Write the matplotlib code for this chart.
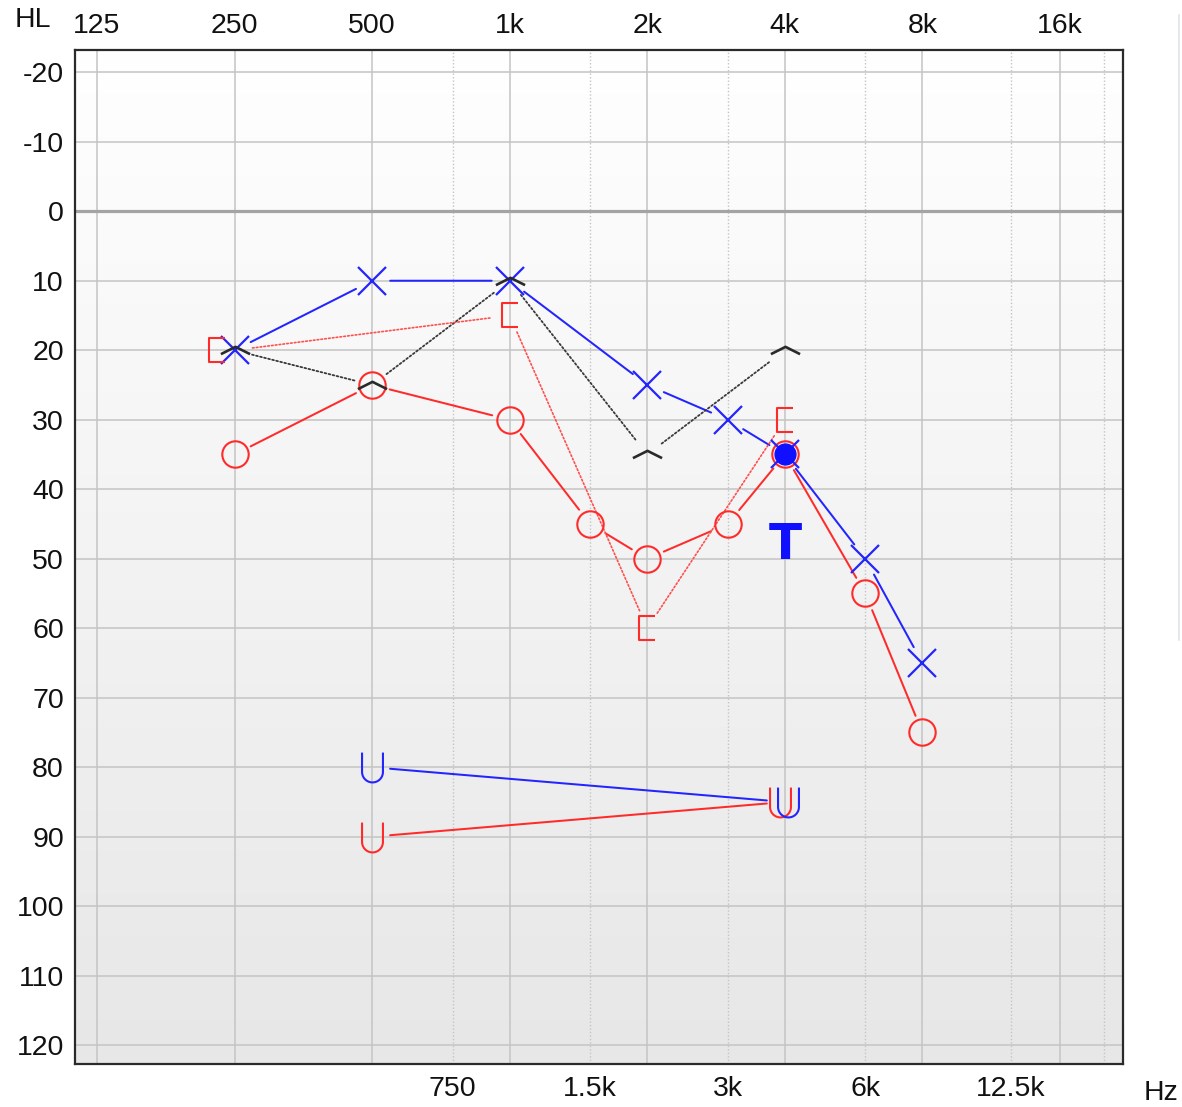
import numpy as np
import matplotlib
matplotlib.use('Agg')
import matplotlib.pyplot as plt
from matplotlib.path import Path
from matplotlib.colors import LinearSegmentedColormap
from matplotlib import transforms
from matplotlib.lines import Line2D

plt.rcParams['font.family'] = ['Liberation Sans', 'DejaVu Sans']

# --- audiogram values (Hz, dB HL) ---
left_air_f = [250, 500, 1000, 2000, 3000, 4000, 6000, 8000]
left_air_db = [20, 10, 10, 25, 30, 35, 50, 65]            # blue X
right_air_f = [250, 500, 1000, 1500, 2000, 3000, 4000, 6000, 8000]
right_air_db = [35, 25, 30, 45, 50, 45, 35, 55, 75]        # red O
free_f = [250, 500, 1000, 2000, 4000]
free_db = [20, 25, 10, 35, 20]                             # black ^
right_bone_f = [250, 1000, 2000, 4000]
right_bone_db = [20, 15, 60, 30]                           # red [
ucl_f = [500, 4000]
left_ucl_db = [80, 85]                                     # blue U
right_ucl_db = [90, 85]                                    # red U
left_masked_f = [4000]
left_masked_db = [35]                                      # blue filled dot
tone_label_f = 4000
tone_label_db = 48

top_ticks = [125, 250, 500, 1000, 2000, 4000, 8000, 16000]
top_labels = ['125', '250', '500', '1k', '2k', '4k', '8k', '16k']
bottom_ticks = [750, 1500, 3000, 6000, 12500, 20000]
bottom_labels = ['750', '1.5k', '3k', '6k', '12.5k', '']
db_ticks = list(range(-20, 121, 10))

BLUE = '#2424ff'
RED = '#ff2b2b'
DARK = '#2a2a2a'

# marker shapes
chevron = Path([(-1, -0.25), (0, 0.25), (1, -0.25)],
               [Path.MOVETO, Path.LINETO, Path.LINETO])
bracket = Path([(0.33, 0.5), (-0.33, 0.5), (-0.33, -0.5), (0.33, -0.5)],
               [Path.MOVETO, Path.LINETO, Path.LINETO, Path.LINETO])
t = np.linspace(np.pi, 2 * np.pi, 24)
u_verts = [(-0.35, 0.5), (-0.35, -0.15)] + \
          [(0.35 * np.cos(a), -0.15 + 0.35 * np.sin(a)) for a in t] + [(0.35, 0.5)]
u_shape = Path(u_verts)

fig = plt.figure(figsize=(11.82, 11.07), dpi=100)
pos = [75 / 1182, 43 / 1107, 1048 / 1182, 1014 / 1107]

# shaded background behind the grid
bg = fig.add_axes(pos, zorder=0)
shade = LinearSegmentedColormap.from_list('shade', ['#ffffff', '#e7e7e7'])
bg.imshow(np.linspace(0, 1, 256).reshape(-1, 1), aspect='auto', cmap=shade,
          extent=(0, 1, 0, 1))
bg.axis('off')

ax = fig.add_axes(pos, zorder=1)
ax.set_facecolor('none')
ax.set_xscale('log', base=2)
ax.set_xlim(111.9, 21980)
ax.set_ylim(122.7, -23.2)

ax.set_xticks(top_ticks)
ax.set_xticklabels(top_labels)
ax.set_xticks(bottom_ticks, minor=True)
ax.set_xticklabels(bottom_labels, minor=True)
ax.set_yticks(db_ticks)
ax.set_yticklabels([str(v) for v in db_ticks])
ax.tick_params(which='both', length=0, labelsize=20.5, colors='#111111')
ax.tick_params(axis='x', which='major', labeltop=True, labelbottom=False, pad=8)
ax.tick_params(axis='x', which='minor', labeltop=False, labelbottom=True, pad=9)
ax.tick_params(axis='y', pad=8)

ax.grid(which='major', axis='both', color='#c4c4c4', lw=1.1)
ax.grid(which='minor', axis='x', color='#c4c4c4', lw=1.0, ls=(0, (1, 1.5)))
ax.axhline(0, color='#a4a4a4', lw=2.3, zorder=1.5)
ax.set_axisbelow(True)
for s in ax.spines.values():
    s.set_color('#2a2a2a')
    s.set_linewidth(1.6)


def link(fx, db, color, ls='-', lw=1.45, gap=13):
    for i in range(len(fx) - 1):
        ax.annotate('', xy=(fx[i + 1], db[i + 1]), xytext=(fx[i], db[i]),
                    arrowprops=dict(arrowstyle='-', color=color, lw=lw, ls=ls,
                                    shrinkA=gap, shrinkB=gap), zorder=2)


link(right_air_f, right_air_db, RED)
link(left_air_f, left_air_db, BLUE)
link(free_f, free_db, '#3a3a3a', ls=(0, (1, 1.3)), lw=1.3)
link(right_bone_f, right_bone_db, '#ff5050', ls=(0, (1, 1.3)), lw=1.2)
link(ucl_f, left_ucl_db, BLUE)
link(ucl_f, right_ucl_db, RED)

ax.plot(right_air_f, right_air_db, ls='none', marker='o', ms=19, mfc='none',
        mec=RED, mew=1.5, zorder=3)
ax.plot(left_air_f, left_air_db, ls='none', marker='x', ms=19.5, mec=BLUE,
        mew=1.6, zorder=3)
ax.plot(free_f, free_db, ls='none', marker=chevron, ms=21, mfc='none',
        mec=DARK, mew=1.9, zorder=4)
ax.plot(left_masked_f, left_masked_db, ls='none', marker='o', ms=15, mfc='#1010ff',
        mec='#1010ff', zorder=5)

# bone markers; the 250 Hz one sits beside the grid line
bone_nudge = [-18, 0, 0, 0]
for f, d, dx in zip(right_bone_f, right_bone_db, bone_nudge):
    tr = transforms.offset_copy(ax.transData, fig=fig, x=dx, y=0, units='dots')
    ax.plot([f], [d], ls='none', marker=bracket, ms=17, mfc='none', mec=RED,
            mew=1.5, transform=tr, zorder=4)

ucl_nudge = {'red': [0, -5], 'blue': [0, 3]}
for vals, col, key in [(right_ucl_db, RED, 'red'), (left_ucl_db, BLUE, 'blue')]:
    for f, d, dx in zip(ucl_f, vals, ucl_nudge[key]):
        tr = transforms.offset_copy(ax.transData, fig=fig, x=dx, y=0, units='dots')
        ax.plot([f], [d], ls='none', marker=u_shape, ms=21.5, mfc='none',
                mec=col, mew=1.5, transform=tr, zorder=4)

ax.text(tone_label_f, tone_label_db, 'T', color='#1010ff', fontsize=35,
        fontweight='bold', family='DejaVu Sans', ha='center', va='center',
        zorder=5)

fig.text(33 / 1182, 1 - 20 / 1107, 'HL', fontsize=20.5, color='#111111',
         ha='center', va='center')
fig.text(1161 / 1182, 1 - 1093 / 1107, 'Hz', fontsize=20.5, color='#111111',
         ha='center', va='center')
fig.add_artist(Line2D([1179 / 1182] * 2, [1 - 15 / 1107, 1 - 640 / 1107],
                      color='#dfe5ea', lw=1.2))

fig.savefig('out.png', dpi=100)
